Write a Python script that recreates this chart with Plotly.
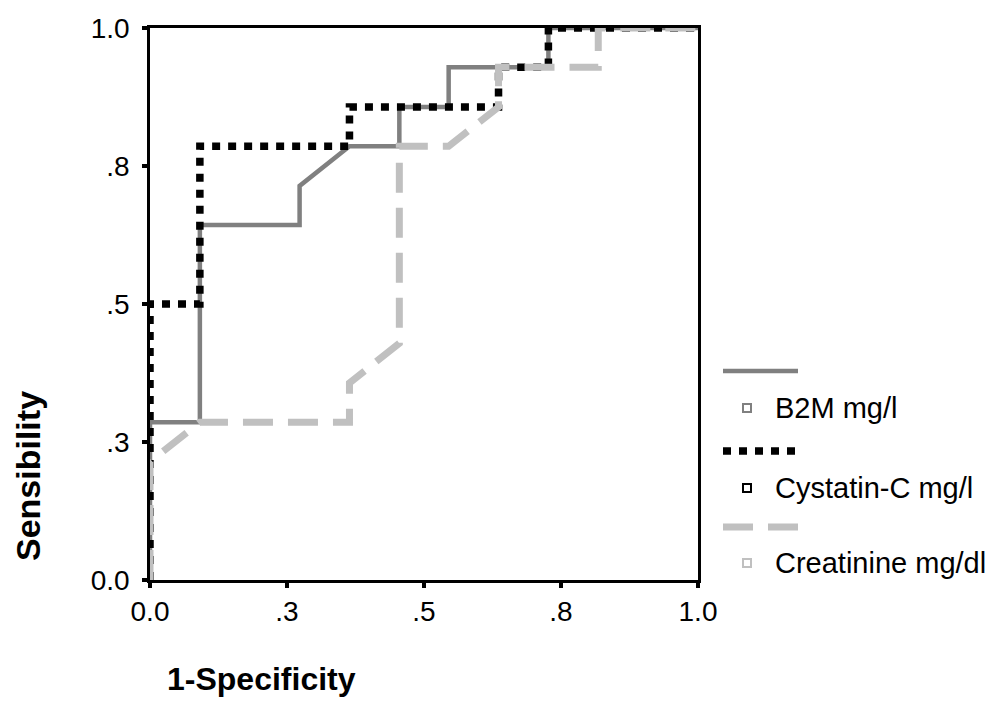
import plotly.graph_objects as go

# ROC data (1-Specificity, Sensibility)
b2m_x = [0, 0, 0.091, 0.091, 0.273, 0.273, 0.364, 0.455, 0.455, 0.545, 0.545, 0.727, 0.727, 1.0]
b2m_y = [0, 0.286, 0.286, 0.643, 0.643, 0.714, 0.786, 0.786, 0.857, 0.857, 0.929, 0.929, 1.0, 1.0]

cys_x = [0, 0, 0.091, 0.091, 0.364, 0.364, 0.636, 0.636, 0.727, 0.727, 1.0]
cys_y = [0, 0.5, 0.5, 0.786, 0.786, 0.857, 0.857, 0.929, 0.929, 1.0, 1.0]

cre_x = [0, 0, 0.091, 0.364, 0.364, 0.455, 0.455, 0.545, 0.636, 0.636, 0.818, 0.818, 1.0]
cre_y = [0, 0.214, 0.286, 0.286, 0.357, 0.429, 0.786, 0.786, 0.857, 0.929, 0.929, 1.0, 1.0]

series_names = ["B2M mg/l", "Cystatin-C mg/l", "Creatinine mg/dl"]
tick_vals = [0, 0.25, 0.5, 0.75, 1.0]
tick_text = ["0.0", ".3", ".5", ".8", "1.0"]

C_B2M = "#808080"
C_CYS = "#000000"
C_CRE = "#c0c0c0"
FONT = "Liberation Sans, Arial, sans-serif"

fig = go.Figure()
fig.add_trace(go.Scatter(x=b2m_x, y=b2m_y, mode="lines", cliponaxis=False,
                         line=dict(color=C_B2M, width=4.5), name=series_names[0]))
fig.add_trace(go.Scatter(x=cys_x, y=cys_y, mode="lines", cliponaxis=False,
                         line=dict(color=C_CYS, width=7.5, dash="8px,8px"), name=series_names[1]))
fig.add_trace(go.Scatter(x=cre_x, y=cre_y, mode="lines", cliponaxis=False,
                         line=dict(color=C_CRE, width=7, dash="30px,15px"), name=series_names[2]))

axis_common = dict(range=[0, 1], tickvals=tick_vals, ticktext=tick_text,
                   showline=True, linecolor="black", linewidth=2.5, mirror=True,
                   ticks="outside", ticklen=5, tickwidth=4, tickcolor="black",
                   showgrid=False, zeroline=False, automargin=False,
                   ticklabeloverflow="allow",
                   tickfont=dict(family=FONT, size=28, color="black"))

fig.update_layout(
    width=996, height=698,
    margin=dict(l=142, r=306, t=20, b=126),
    plot_bgcolor="white", paper_bgcolor="white",
    showlegend=False,
    xaxis=dict(**axis_common),
    yaxis=dict(**axis_common, ticklabelstandoff=7),
)

# helpers: reference pixel -> paper coords of the plot area (x 150..698, y 28..580)
def px_x(p):
    return (p - 150) / 548

def px_y(p):
    return (580 - p) / 552

# axis titles
fig.add_annotation(text="<b>1-Specificity</b>", xref="paper", yref="paper",
                   x=px_x(261), y=px_y(679), showarrow=False,
                   font=dict(family=FONT, size=32, color="black"),
                   xanchor="center", yanchor="middle")
fig.add_annotation(text="<b>Sensibility</b>", xref="paper", yref="paper",
                   x=px_x(28), y=px_y(476), showarrow=False,
                   textangle=-90,
                   font=dict(family=FONT, size=34, color="black"),
                   xanchor="center", yanchor="middle")

# custom legend
legend_items = [
    (series_names[0], C_B2M, 4.5, "solid", 371, 408),
    (series_names[1], C_CYS, 7.5, "8px,8px", 451, 488),
    (series_names[2], C_CRE, 7, "30px,15px", 527, 563),
]
for name, col, w, dash, ly, ty in legend_items:
    fig.add_shape(type="line", xref="paper", yref="paper",
                  x0=px_x(723), x1=px_x(798), y0=px_y(ly), y1=px_y(ly),
                  line=dict(color=col, width=w, dash=dash))
    fig.add_shape(type="rect", xref="paper", yref="paper",
                  x0=px_x(743), x1=px_x(751), y0=px_y(ty + 4), y1=px_y(ty - 4),
                  line=dict(color=col, width=2), fillcolor="white")
    fig.add_annotation(text=name, xref="paper", yref="paper",
                       x=px_x(773), y=px_y(ty), showarrow=False,
                       xanchor="left", yanchor="middle",
                       font=dict(family=FONT, size=29, color="black"))

fig.write_html("out.html")
